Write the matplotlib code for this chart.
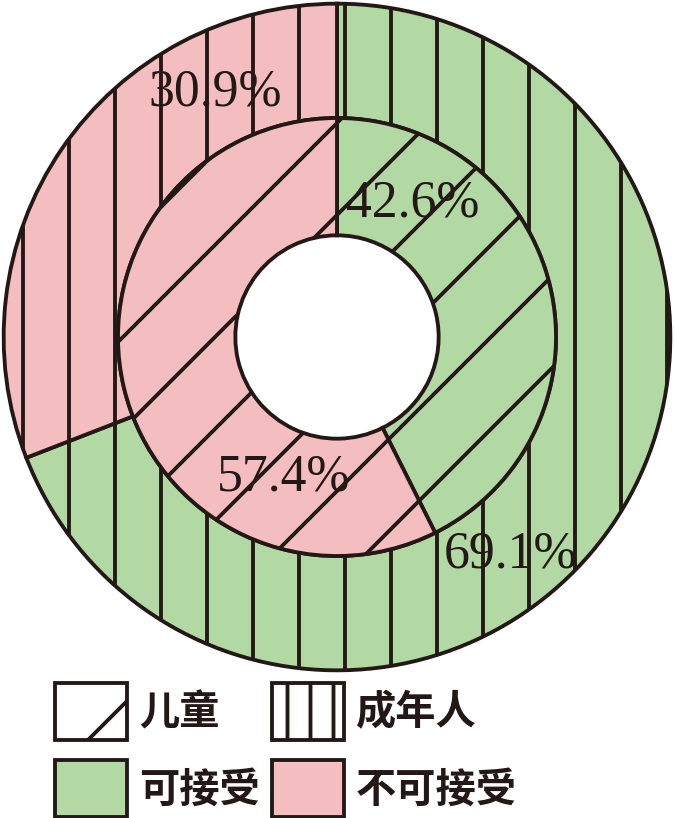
import matplotlib
matplotlib.use("Agg")
import matplotlib.pyplot as plt
from matplotlib.patches import Patch

# ---- data ----
groups = ["成年人", "儿童"]
status = ["可接受", "不可接受"]
adult_vals = [69.1, 30.9]
child_vals = [42.6, 57.4]
adult_labels = ["69.1%", "30.9%"]
child_labels = ["42.6%", "57.4%"]

# ---- style ----
DPI = 276
W, H = 675, 818
green = "#b2d8a4"
pink = "#f4bec0"
dark = "#231815"
plt.rcParams["hatch.linewidth"] = 1.0
plt.rcParams["font.family"] = ["Noto Sans CJK SC", "DejaVu Sans"]

fig = plt.figure(figsize=(W / DPI, H / DPI), dpi=DPI)
cx, cy, R = 337, 337, 335
ax = fig.add_axes([(cx - R) / W, 1 - (cy + R) / H, 2 * R / W, 2 * R / H])
ax.set_aspect("equal")
ax.axis("off")

r_in_outer = 0.657
r_hole = 0.305
lw = 1.0

ax.pie(adult_vals, radius=1.0, startangle=90, counterclock=False,
       colors=[green, pink], hatch="|",
       wedgeprops=dict(width=1.0 - r_in_outer, edgecolor=dark, linewidth=lw))
ax.pie(child_vals, radius=r_in_outer, startangle=90, counterclock=False,
       colors=[green, pink], hatch="/",
       wedgeprops=dict(width=r_in_outer - r_hole, edgecolor=dark, linewidth=lw))
ax.set_xlim(-1.005, 1.005)
ax.set_ylim(-1.005, 1.005)

# label positions (data coords)
adult_pos = [(0.522, -0.651), (-0.364, 0.734)]
child_pos = [(0.227, 0.40), (-0.161, -0.421)]
for txt, (x, y) in zip(adult_labels + child_labels, adult_pos + child_pos):
    ax.text(x, y, txt, ha="center", va="center", fontsize=13.5,
            family=["Liberation Serif", "DejaVu Serif"], color=dark)

handles = [
    Patch(facecolor="white", edgecolor=dark, hatch="/", linewidth=lw),
    Patch(facecolor=green, edgecolor=dark, linewidth=lw),
    Patch(facecolor="white", edgecolor=dark, hatch="||", linewidth=lw),
    Patch(facecolor=pink, edgecolor=dark, linewidth=lw),
]
labels = [groups[1], status[0], groups[0], status[1]]
fs = 10.5
fs_px = fs * DPI / 72
hh = (57 / fs_px - 0.245) / 0.65
fig.legend(handles, labels, loc="upper left",
           bbox_to_anchor=(55 / W, 1 - 683 / H), ncol=2, frameon=False,
           borderpad=0, borderaxespad=0,
           handlelength=72 / fs_px, handleheight=hh,
           handletextpad=0.3, columnspacing=0.3, labelspacing=0.5,
           prop=dict(family="Noto Sans CJK SC", weight="bold", size=fs),
           labelcolor=dark)

fig.savefig("out.png", dpi=DPI)
